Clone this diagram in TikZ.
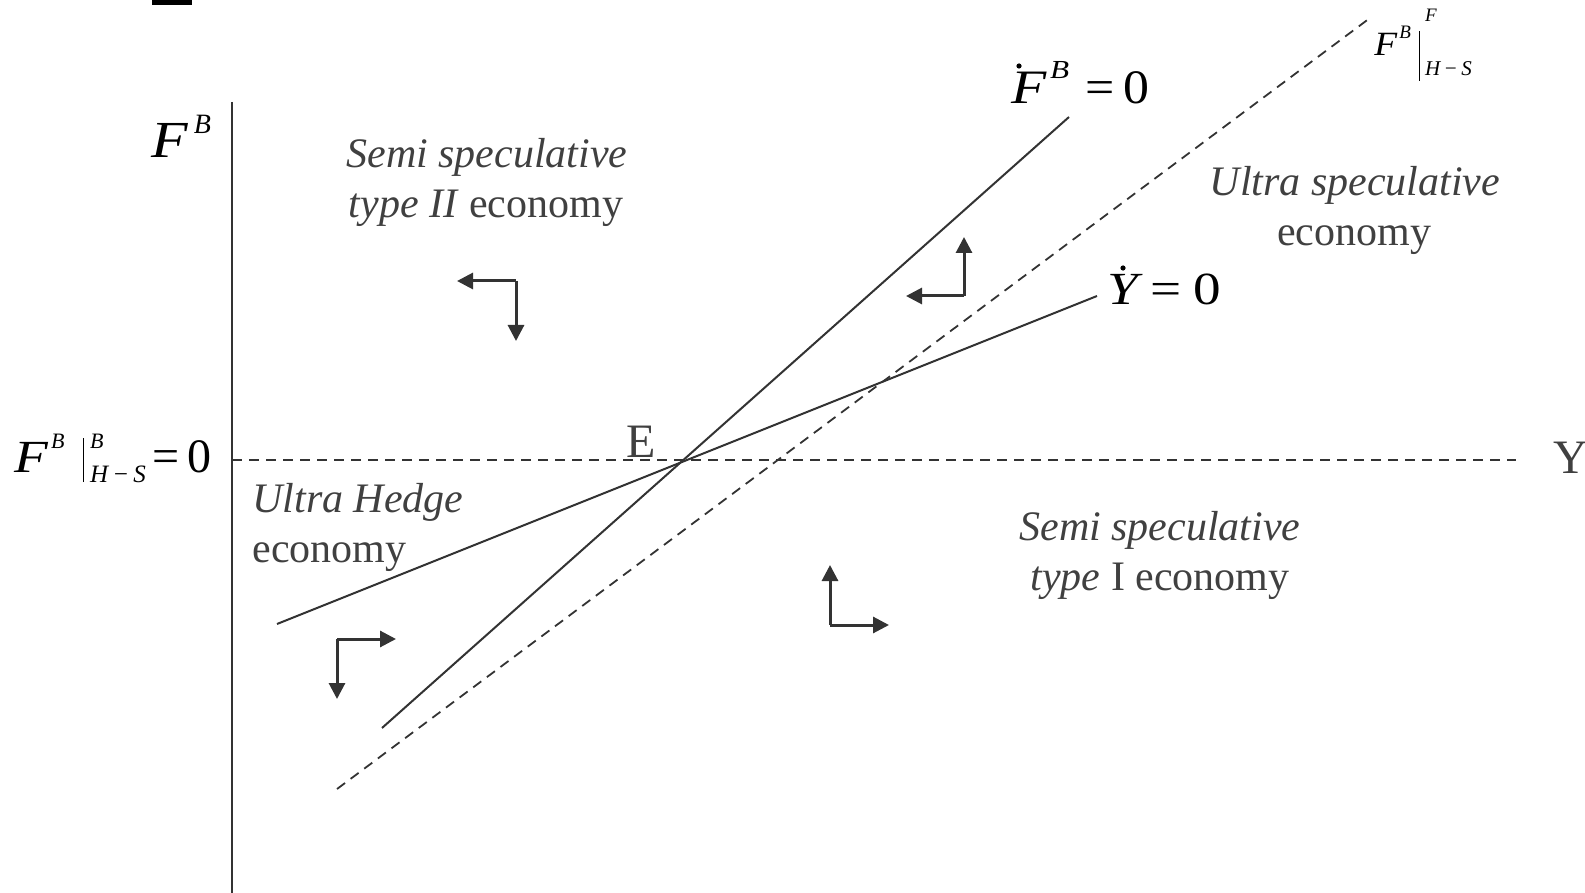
\documentclass[tikz,border=0pt]{standalone}
\usepackage{fontspec}
\setmainfont{Liberation Serif}[ItalicFont={Liberation Serif Italic}]
\usetikzlibrary{arrows.meta}
\definecolor{linecol}{RGB}{51,51,51}
\definecolor{textcol}{RGB}{64,64,64}
\newcommand\sz[1]{\fontsize{#1}{#1}\selectfont}
\newcommand\hs[2]{\scalebox{#1}[1]{#2}}
\tikzset{
  solidline/.style={draw=linecol, line width=1pt},
  dashline/.style={draw=linecol, line width=0.9pt, dash pattern=on 5pt off 3.5pt},
  flowarrow/.style={draw=linecol, line width=1.5pt, -{Triangle[length=8pt,width=8pt]}},
  lbl/.style={inner sep=0pt, text=textcol, font=\sz{21}},
  mathlbl/.style={inner sep=0pt, text=black},
}
\begin{document}
\begin{tikzpicture}[x=0.5pt,y=-0.5pt]
\useasboundingbox (0,0) rectangle (1585,893);
% top black bar
\fill[black] (152,0) rectangle (192,5);
% axes
\coordinate (ytop) at (232,102);
\coordinate (ybot) at (232,893);
\draw[draw=linecol, line width=1.2pt] (ytop) -- (ybot);
\coordinate (hl) at (232,460);
\coordinate (hr) at (1516,460);
\draw[dashline] (hl) -- (hr);
% lines
\coordinate (fa) at (382,728);
\coordinate (fb) at (1069,117);
\draw[solidline] (fa) -- (fb);
\coordinate (ya) at (277,624);
\coordinate (yb) at (1097,296);
\draw[solidline] (ya) -- (yb);
\coordinate (da) at (337,789);
\coordinate (db) at (1370,18);
\draw[dashline] (da) -- (db);
% flow arrows
\coordinate (c1) at (516,281);
\coordinate (c1l) at (457,281);
\coordinate (c1d) at (516,341);
\draw[flowarrow] (c1) -- (c1l);
\draw[flowarrow] (c1) -- (c1d);
\coordinate (c2) at (964,296);
\coordinate (c2u) at (964,237);
\coordinate (c2l) at (906,296);
\draw[flowarrow] (c2) -- (c2u);
\draw[flowarrow] (c2) -- (c2l);
\coordinate (c3) at (337,639);
\coordinate (c3r) at (396,639);
\coordinate (c3d) at (337,699);
\draw[flowarrow] (c3) -- (c3r);
\draw[flowarrow] (c3) -- (c3d);
\coordinate (c4) at (830,625);
\coordinate (c4u) at (830,565);
\coordinate (c4r) at (889,625);
\draw[flowarrow] (c4) -- (c4u);
\draw[flowarrow] (c4) -- (c4r);
% math labels
\node[mathlbl, anchor=base west] (fbaxis) at (151,158)
  {\hs{1.15}{\sz{26}\itshape F}\hspace{3pt}\raisebox{12pt}{\sz{14}\itshape B}};
\node[mathlbl, anchor=base west] (hslabel) at (14,472)
  {\hs{1.2}{\sz{23}\itshape F}\hspace{1.5pt}\raisebox{12pt}{\sz{11}\itshape B}\hspace{9pt}\rule[-5pt]{0.8pt}{22pt}\hspace{3pt}\rlap{\raisebox{12pt}{\sz{11}\itshape B}}\raisebox{-5pt}{\sz{12.5}\itshape H\,−\,S}\hspace{3.5pt}{\sz{24}=\hspace{4pt}0}};
\node[mathlbl, anchor=base west] (fflabel) at (1374,56)
  {\hs{1.1}{\sz{17}\itshape F}\hspace{1pt}\raisebox{8.5pt}{\sz{9.5}\itshape B}\hspace{4pt}\rule[-12.5pt]{0.6pt}{25pt}\hspace{2.5pt}\rlap{\raisebox{17pt}{\sz{9.5}\itshape F}}\raisebox{-10pt}{\sz{10.5}\itshape H\,−\,S}};
\node[mathlbl, anchor=base west] (fdotlabel) at (1011,104)
  {\hs{1.2}{\sz{24}{\itshape F}\hspace{1.5pt}\raisebox{12.5pt}{\sz{13}\itshape B}}\hspace{8pt}\hs{1.08}{\sz{24}=\hspace{4pt}0}};
\fill[black] (1019,66) circle (2.6);
\node[mathlbl, anchor=base west] (ydotlabel) at (1107,305)
  {\hs{1.2}{\sz{23}{\itshape Y}\hspace{5pt}=\hspace{5pt}0}};
\fill[black] (1123,268) circle (2.6);
\node[lbl, font=\sz{24}, anchor=base west] (elabel) at (626,457) {E};
\node[lbl, font=\sz{24}, anchor=base west] (ylabel) at (1553,473) {Y};
% region labels
\node[lbl, anchor=base] (s2a) at (487,168) {\itshape Semi speculative};
\node[lbl, anchor=base] (s2b) at (486,218) {\textit{type II} economy};
\node[lbl, anchor=base] (usa) at (1355,196) {\itshape Ultra speculative};
\node[lbl, anchor=base] (usb) at (1354,246) {economy};
\node[lbl, anchor=base west] (uha) at (252,512) {\itshape Ultra Hedge};
\node[lbl, anchor=base west] (uhb) at (252,562) {economy};
\node[lbl, anchor=base] (s1a) at (1160,540) {\itshape Semi speculative};
\node[lbl, anchor=base] (s1b) at (1160,590) {\textit{type} I economy};
\end{tikzpicture}
\end{document}
